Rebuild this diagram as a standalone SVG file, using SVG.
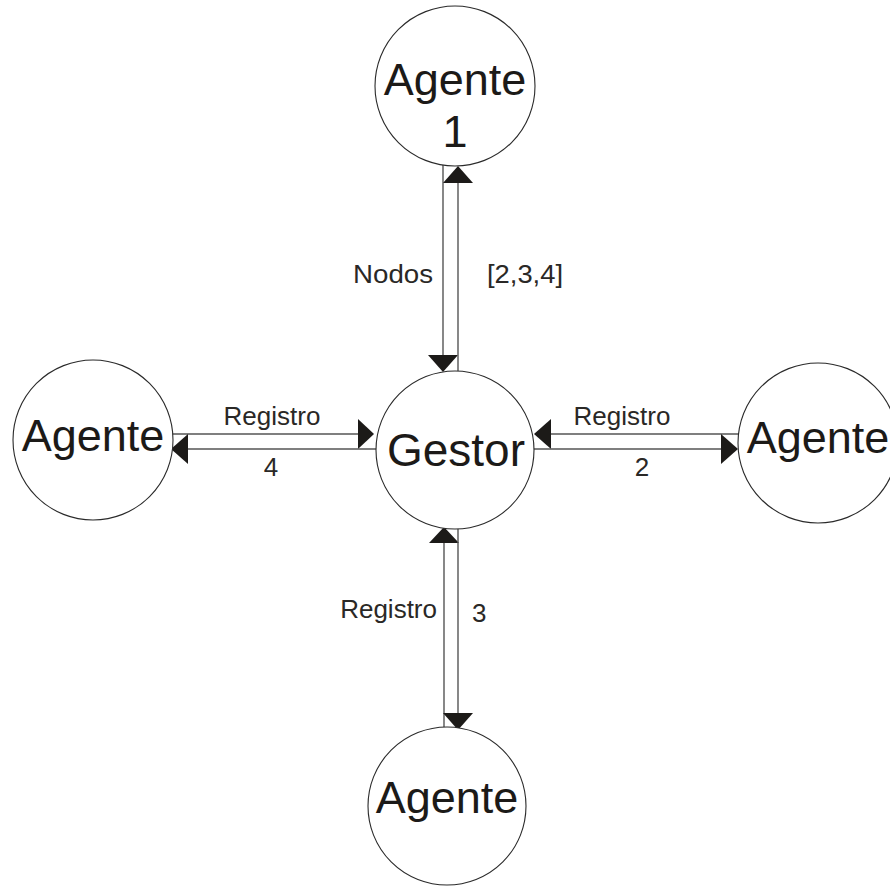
<svg xmlns="http://www.w3.org/2000/svg" width="890" height="886" viewBox="0 0 890 886">
  <style>
    .node { fill: #ffffff; stroke: #2a2a2a; stroke-width: 1.1; }
    .big { font-family: "Liberation Sans", Arial, sans-serif; font-size: 45px; fill: #1c1a18; text-anchor: middle; }
    .lbl { font-family: "Liberation Sans", Arial, sans-serif; font-size: 26px; fill: #2a2826; }
    .wire { stroke: #555555; stroke-width: 1.4; fill: none; }
    .head { fill: #1c1a18; }
  </style>
  <rect width="890" height="886" fill="#ffffff"/>

  <!-- connectors: paired lines with solid triangular heads -->
  <g id="connectors">
    <!-- Agente 1 <-> Gestor -->
    <line class="wire" x1="443" y1="165" x2="443" y2="356"/>
    <polygon class="head" points="428,355 458,355 443,372"/>
    <line class="wire" x1="458" y1="182" x2="458" y2="371"/>
    <polygon class="head" points="443,183 473,183 458,166"/>

    <!-- left Agente <-> Gestor -->
    <line class="wire" x1="172" y1="434" x2="359" y2="434"/>
    <polygon class="head" points="358,419 358,449 374,434"/>
    <line class="wire" x1="187" y1="449" x2="377" y2="449"/>
    <polygon class="head" points="188,434 188,464 171,449"/>

    <!-- Gestor <-> right Agente -->
    <line class="wire" x1="550" y1="434" x2="739" y2="434"/>
    <polygon class="head" points="551,419 551,449 534,434"/>
    <line class="wire" x1="533" y1="449" x2="722" y2="449"/>
    <polygon class="head" points="721,434 721,464 738,449"/>

    <!-- Gestor <-> bottom Agente -->
    <line class="wire" x1="444" y1="542" x2="444" y2="727"/>
    <polygon class="head" points="429,543 459,543 444,527"/>
    <line class="wire" x1="458" y1="527" x2="458" y2="714"/>
    <polygon class="head" points="443,713 473,713 458,730"/>
  </g>

  <g id="labels">
    <text class="lbl" x="353" y="283" textLength="80" lengthAdjust="spacingAndGlyphs">Nodos</text>
    <text class="lbl" x="487" y="283" textLength="76" lengthAdjust="spacingAndGlyphs">[2,3,4]</text>
    <text class="lbl" x="272" y="425" text-anchor="middle">Registro</text>
    <text class="lbl" x="271" y="476" text-anchor="middle">4</text>
    <text class="lbl" x="622" y="425" text-anchor="middle">Registro</text>
    <text class="lbl" x="642" y="476" text-anchor="middle">2</text>
    <text class="lbl" x="437" y="618" text-anchor="end">Registro</text>
    <text class="lbl" x="472" y="622">3</text>
  </g>

  <g id="agente1">
    <circle class="node" cx="455" cy="86" r="80"/>
    <text class="big" x="455" y="95">Agente</text>
    <text class="big" x="455" y="147">1</text>
  </g>

  <g id="gestor">
    <circle class="node" cx="455" cy="450" r="79"/>
    <text class="big" x="456" y="466" style="font-size:46px">Gestor</text>
  </g>

  <g id="agente4">
    <circle class="node" cx="93" cy="440" r="80"/>
    <text class="big" x="93" y="451">Agente</text>
  </g>

  <g id="agente2">
    <circle class="node" cx="818" cy="443" r="80"/>
    <text class="big" x="818" y="453">Agente</text>
  </g>

  <g id="agente3">
    <circle class="node" cx="447" cy="806" r="79"/>
    <text class="big" x="447" y="813">Agente</text>
  </g>
</svg>
